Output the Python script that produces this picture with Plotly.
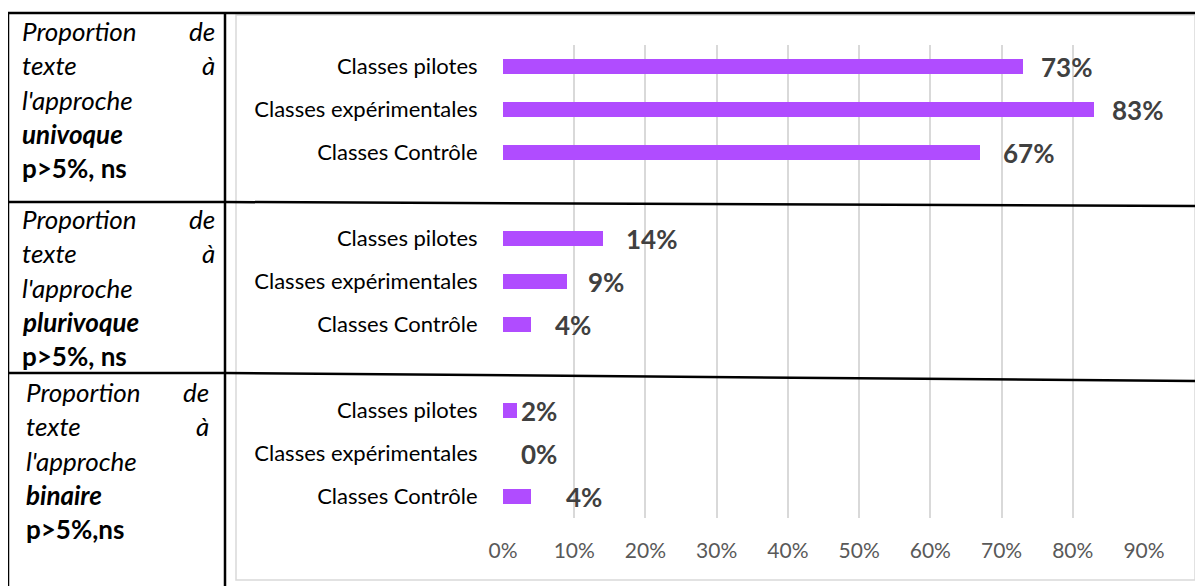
import plotly.graph_objects as go

# --- data ---
categories = ["Classes pilotes", "Classes expérimentales", "Classes Contrôle"]
univoque = [73, 83, 67]
plurivoque = [14, 9, 4]
binaire = [2, 0, 4]
x_ticks = [0, 10, 20, 30, 40, 50, 60, 70, 80, 90]

row_titles = [
    ("univoque", "p>5%, ns"),
    ("plurivoque", "p>5%, ns"),
    ("binaire", "p>5%,ns"),
]

W, H = 1203, 586
OFF = 8  # the page body has an 8px margin
FONT = "Lato, Calibri, Carlito, sans-serif"
BAR = "#B04CFF"


def px(x):
    return (x - OFF) / W


def py(y):
    return 1 - (y - OFF) / H


# 11 slots: 3 bars, a blank slot, 3 bars, blank, 3 bars (top to bottom)
groups = [univoque, plurivoque, binaire]
ys, xs, labels = [], [], []
slot = 10
for g in groups:
    for cat, v in zip(categories, g):
        ys.append(slot)
        xs.append(v)
        labels.append(cat)
        slot -= 1
    slot -= 1

fig = go.Figure()
fig.add_trace(go.Bar(
    x=xs, y=ys, orientation="h",
    width=0.35,
    marker=dict(color=BAR, line=dict(width=0)),
    hoverinfo="skip",
))

# data labels, nudged like the original
label_shift = [16, 16, 21, 21, 19, 22, 2, 16, 33]
for x, y, s in zip(xs, ys, label_shift):
    fig.add_annotation(
        x=x, y=y, text=f"<b>{x}%</b>", showarrow=False,
        xanchor="left", yanchor="middle", xshift=s, yshift=-1,
        font=dict(family=FONT, size=26, color="#404040"),
    )

fig.update_xaxes(
    domain=[px(503), px(1144)], range=[0, 90],
    tickvals=x_ticks, ticktext=[f"{t}%" for t in x_ticks],
    showgrid=True, gridcolor="#d9d9d9", gridwidth=1.5,
    zeroline=False, showline=False,
    ticks="outside", ticklen=14, tickcolor="rgba(0,0,0,0)",
    tickfont=dict(family=FONT, size=21, color="#595959"),
    automargin=False, fixedrange=True,
)
fig.update_yaxes(
    domain=[py(518), py(45)], range=[-0.5, 10.5],
    tickvals=ys, ticktext=labels,
    showgrid=False, zeroline=False, showline=False,
    ticks="outside", ticklen=20, tickcolor="rgba(0,0,0,0)",
    tickfont=dict(family=FONT, size=22, color="#000000"),
    automargin=False, fixedrange=True,
)

# left column texts
cell_tops = [31, 219, 392]
cell_left = [20, 20, 24]
cell_right = [217, 217, 211]
step = 34.3
tf = dict(family=FONT, size=26, color="#000000")
for (word, pval), top, xl, xr in zip(row_titles, cell_tops, cell_left, cell_right):
    lines_l = ["<i>Proportion</i>", "<i>texte</i>", "<i>l'approche</i>",
               f"<b><i>{word}</i></b>", f"<b>{pval}</b>"]
    for i, t in enumerate(lines_l):
        fig.add_annotation(x=px(xl), y=py(top + i * step), xref="paper", yref="paper",
                           text=t, showarrow=False, xanchor="left", yanchor="middle",
                           font=tf)
    for i, t in enumerate(["<i>de</i>", "<i>à</i>"]):
        fig.add_annotation(x=px(xr), y=py(top + i * step), xref="paper", yref="paper",
                           text=t, showarrow=False, xanchor="right", yanchor="middle",
                           font=tf)

# chart frame
shapes = [dict(type="rect", xref="paper", yref="paper",
               x0=px(236), x1=px(1195), y0=py(580), y1=py(15),
               line=dict(color="#d9d9d9", width=1.5))]
# table borders
black = dict(color="#000000", width=2.5)
for x0, y0, x1, y1 in [
    (8, 13, 1203, 13),
    (8, 13, 8, 594),
    (225, 13, 225, 594),
    (8, 202, 225, 202),
    (225, 202, 1203, 206),
    (8, 373, 225, 373),
    (225, 373, 1203, 381),
]:
    shapes.append(dict(type="line", xref="paper", yref="paper",
                       x0=px(x0), y0=py(y0), x1=px(x1), y1=py(y1), line=black))

fig.update_layout(
    width=W, height=H,
    margin=dict(l=0, r=0, t=0, b=0),
    paper_bgcolor="white", plot_bgcolor="white",
    showlegend=False, bargap=0,
    shapes=shapes,
)

fig.write_html("out.html")
